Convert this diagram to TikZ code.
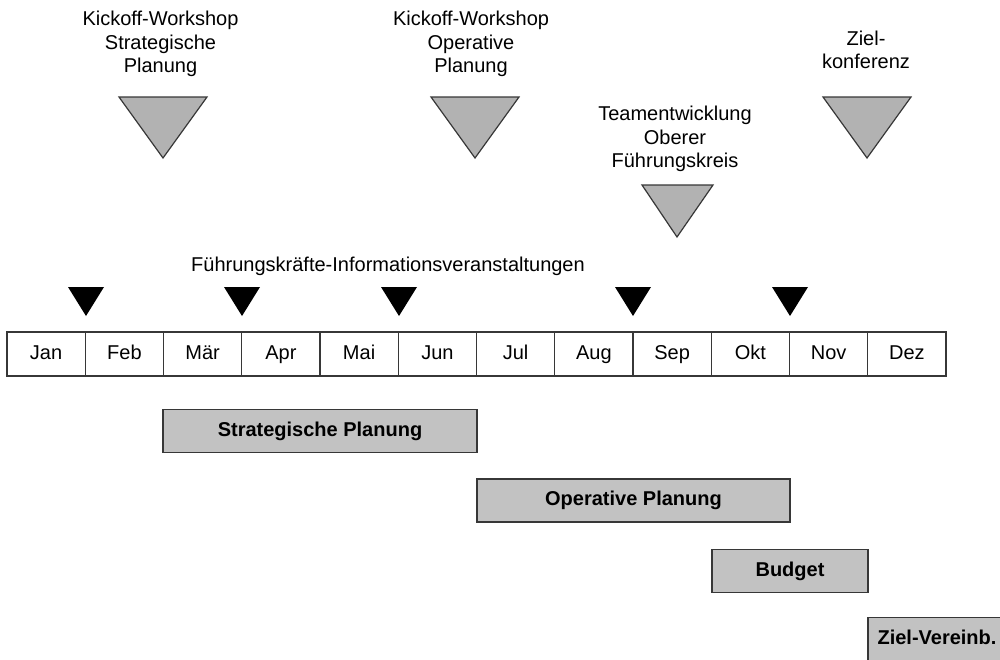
\documentclass[tikz,border=0pt]{standalone}
\usepackage{fontspec}
\setmainfont{Liberation Sans}
\definecolor{trigray}{RGB}{178,178,178}
\definecolor{bargray}{RGB}{194,194,194}
\definecolor{edgegray}{RGB}{55,55,55}
\begin{document}
\begin{tikzpicture}[x=0.5pt, y=-0.5pt, every node/.style={font=\fontsize{10}{11.75}\selectfont}]
\tikzstyle{month}=[draw=edgegray, line width=0.7pt, minimum width=39.125pt, minimum height=22pt, inner sep=0pt, text height=7.2pt, text depth=2.1pt]
\tikzstyle{phase}=[draw=edgegray, fill=bargray, line width=0.8pt, minimum height=21.5pt, inner sep=0pt, text height=7.2pt, text depth=2.1pt, font=\bfseries\fontsize{10}{12}\selectfont]
\tikzstyle{event}=[align=center, inner sep=0pt]
\useasboundingbox (0,0) rectangle (1000,659);
\clip (0,0) rectangle (1000,659);
% events
\node [event] (kickstrat) at (160.5,44) {Kickoff-Workshop\\Strategische\\Planung};
\node [event] (kickop) at (471,44) {Kickoff-Workshop\\Operative\\Planung};
\node [event] (team) at (675,139) {Teamentwicklung\\Oberer\\Führungskreis};
\node [event] (zielkonf) at (866,50) {Ziel-\\konferenz};
\node [event] (fkinfo) at (388,266) {Führungskräfte-Informationsveranstaltungen};
\filldraw [draw=edgegray, fill=trigray, line width=0.6pt] (119,97) -- (207,97) -- (163,158) -- cycle;
\filldraw [draw=edgegray, fill=trigray, line width=0.6pt] (431,97) -- (519,97) -- (475,158) -- cycle;
\filldraw [draw=edgegray, fill=trigray, line width=0.6pt] (642,185) -- (713,185) -- (677,237) -- cycle;
\filldraw [draw=edgegray, fill=trigray, line width=0.6pt] (823,97) -- (911,97) -- (867,158) -- cycle;
\fill [black] (68,287) -- (104,287) -- (86,316);
\fill [black] (224,287) -- (260,287) -- (242,316);
\fill [black] (381,287) -- (417,287) -- (399,316);
\fill [black] (615,287) -- (651,287) -- (633,316);
\fill [black] (772,287) -- (808,287) -- (790,316);
% months
\node [month] (jan) at (46.1,354) {Jan};
\node [month] (feb) at (124.4,354) {Feb};
\node [month] (mar) at (202.6,354) {Mär};
\node [month] (apr) at (280.9,354) {Apr};
\node [month] (mai) at (359.1,354) {Mai};
\node [month] (jun) at (437.4,354) {Jun};
\node [month] (jul) at (515.6,354) {Jul};
\node [month] (aug) at (593.9,354) {Aug};
\node [month] (sep) at (672.1,354) {Sep};
\node [month] (okt) at (750.4,354) {Okt};
\node [month] (nov) at (828.6,354) {Nov};
\node [month] (dez) at (906.9,354) {Dez};
% phases
\node [phase, minimum width=157pt] (strat) at (320,431) {Strategische Planung};
\node [phase, minimum width=156.5pt] (oper) at (633.5,500.5) {Operative Planung};
\node [phase, minimum width=78pt] (budget) at (790,571) {Budget};
\node [phase, minimum width=69pt] (zielv) at (937,639) {Ziel-Vereinb.};
\end{tikzpicture}
\end{document}
